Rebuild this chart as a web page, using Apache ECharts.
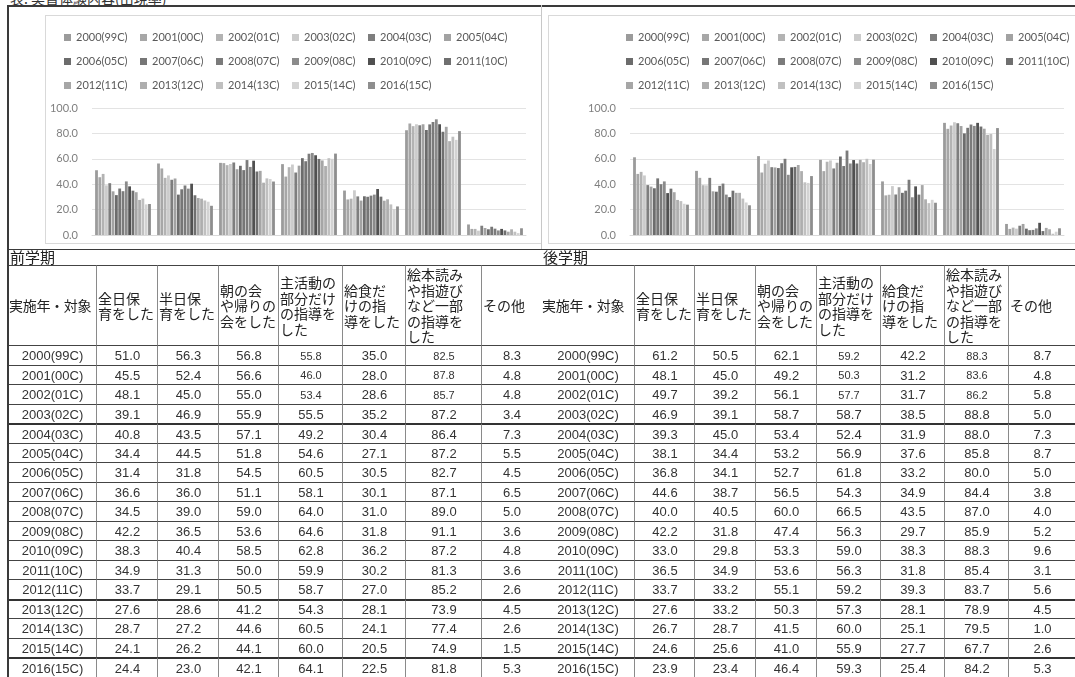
<!DOCTYPE html>
<html>
<head>
<meta charset="utf-8">
<script src="https://cdn.jsdelivr.net/npm/echarts@6/dist/echarts.min.js"></script>
<style>
  html, body { margin: 0; padding: 0; }
  body { width: 1075px; height: 677px; overflow: hidden; background: #fff; position: relative;
         font-family: "Noto Sans CJK JP", sans-serif; color: #222; }
  #title { position: absolute; left: 10px; top: -12px; font-size: 14px; color: #333; white-space: nowrap; }
  .line { position: absolute; background: #3a3a3a; }
  .box { position: absolute; border: 1px solid #d9d9d9; box-sizing: border-box; }
  #chart { position: absolute; left: 0; top: 0; width: 1130px; height: 250px; }
  .tbl { position: absolute; top: 249px; height: 428px; overflow: hidden; }
  .cap { position: absolute; left: 2px; top: -1px; font-size: 15px; line-height: 17px; color: #222; }
  .cell { position: absolute; box-sizing: border-box; border-left: 1px solid #8a8a8a; border-top: 1px solid #444;
          display: flex; align-items: center; overflow: hidden; }
  .hd { font-size: 14px; line-height: 15.5px; padding-left: 1px; color: #222; }
  .hd.first { font-size: 14px; white-space: nowrap; letter-spacing: -0.3px; }
  .num { justify-content: center; font-family: "Liberation Sans", sans-serif; font-size: 13px; color: #333; }
  .num.small { font-size: 11px; }
  .thick { border-top: 2px solid #333; }
</style>
</head>
<body>
<div id="title">表. 実習体験内容(出現率)</div>
<div class="box" style="left:45px;top:15px;width:497px;height:229px;"></div>
<div class="box" style="left:548px;top:15px;width:540px;height:229px;"></div>
<div id="chart"></div>
<div class="tbl" id="tblA" style="left:8px;width:533px;"></div>
<div class="tbl" id="tblB" style="left:541px;width:534px;"></div>
<div class="line" style="left:7px;top:5px;width:1068px;height:2px;"></div>
<div class="line" style="left:7px;top:5px;width:2px;height:672px;"></div>
<div class="line" style="left:541px;top:5px;width:1px;height:244px;background:#c8c8c8;"></div>
<div class="line" style="left:8px;top:249px;width:1067px;height:1px;"></div>
<script>
// Survey categories (table columns / chart x-axis)
const categories = ['全日保育をした', '半日保育をした', '朝の会や帰りの会をした', '主活動の部分だけの指導をした',
  '給食だけの指導をした', '絵本読みや指遊びなど一部の指導をした', 'その他'];

// Header labels with the line breaks used in the table
const headerLabels = ['実施年・対象', '全日保<br>育をした', '半日保<br>育をした', '朝の会<br>や帰りの<br>会をした',
  '主活動の<br>部分だけ<br>の指導を<br>した', '給食だ<br>けの指<br>導をした',
  '絵本読み<br>や指遊び<br>など一部<br>の指導を<br>した', 'その他'];

// Survey year / cohort
const years = ['2000(99C)', '2001(00C)', '2002(01C)', '2003(02C)', '2004(03C)', '2005(04C)', '2006(05C)',
  '2007(06C)', '2008(07C)', '2009(08C)', '2010(09C)', '2011(10C)', '2012(11C)', '2013(12C)', '2014(13C)',
  '2015(14C)', '2016(15C)'];

// 前学期: one row per year, values in category order (%)
const firstTerm = [
  [51.0, 56.3, 56.8, 55.8, 35.0, 82.5, 8.3],
  [45.5, 52.4, 56.6, 46.0, 28.0, 87.8, 4.8],
  [48.1, 45.0, 55.0, 53.4, 28.6, 85.7, 4.8],
  [39.1, 46.9, 55.9, 55.5, 35.2, 87.2, 3.4],
  [40.8, 43.5, 57.1, 49.2, 30.4, 86.4, 7.3],
  [34.4, 44.5, 51.8, 54.6, 27.1, 87.2, 5.5],
  [31.4, 31.8, 54.5, 60.5, 30.5, 82.7, 4.5],
  [36.6, 36.0, 51.1, 58.1, 30.1, 87.1, 6.5],
  [34.5, 39.0, 59.0, 64.0, 31.0, 89.0, 5.0],
  [42.2, 36.5, 53.6, 64.6, 31.8, 91.1, 3.6],
  [38.3, 40.4, 58.5, 62.8, 36.2, 87.2, 4.8],
  [34.9, 31.3, 50.0, 59.9, 30.2, 81.3, 3.6],
  [33.7, 29.1, 50.5, 58.7, 27.0, 85.2, 2.6],
  [27.6, 28.6, 41.2, 54.3, 28.1, 73.9, 4.5],
  [28.7, 27.2, 44.6, 60.5, 24.1, 77.4, 2.6],
  [24.1, 26.2, 44.1, 60.0, 20.5, 74.9, 1.5],
  [24.4, 23.0, 42.1, 64.1, 22.5, 81.8, 5.3]
];

// 後学期: one row per year, values in category order (%)
const secondTerm = [
  [61.2, 50.5, 62.1, 59.2, 42.2, 88.3, 8.7],
  [48.1, 45.0, 49.2, 50.3, 31.2, 83.6, 4.8],
  [49.7, 39.2, 56.1, 57.7, 31.7, 86.2, 5.8],
  [46.9, 39.1, 58.7, 58.7, 38.5, 88.8, 5.0],
  [39.3, 45.0, 53.4, 52.4, 31.9, 88.0, 7.3],
  [38.1, 34.4, 53.2, 56.9, 37.6, 85.8, 8.7],
  [36.8, 34.1, 52.7, 61.8, 33.2, 80.0, 5.0],
  [44.6, 38.7, 56.5, 54.3, 34.9, 84.4, 3.8],
  [40.0, 40.5, 60.0, 66.5, 43.5, 87.0, 4.0],
  [42.2, 31.8, 47.4, 56.3, 29.7, 85.9, 5.2],
  [33.0, 29.8, 53.3, 59.0, 38.3, 88.3, 9.6],
  [36.5, 34.9, 53.6, 56.3, 31.8, 85.4, 3.1],
  [33.7, 33.2, 55.1, 59.2, 39.3, 83.7, 5.6],
  [27.6, 33.2, 50.3, 57.3, 28.1, 78.9, 4.5],
  [26.7, 28.7, 41.5, 60.0, 25.1, 79.5, 1.0],
  [24.6, 25.6, 41.0, 55.9, 27.7, 67.7, 2.6],
  [23.9, 23.4, 46.4, 59.3, 25.4, 84.2, 5.3]
];

// Axis ticks
const yTicks = { min: 0, max: 100, interval: 20 };

// Grey shades per year
const yearColors = ['#9b9b9b', '#a7a7a7', '#b3b3b3', '#cbcbcb', '#7e7e7e', '#a2a2a2', '#6c6c6c', '#767676',
  '#7b7b7b', '#8b8b8b', '#505050', '#6f6f6f', '#a6a6a6', '#aeaeae', '#c0c0c0', '#d3d3d3', '#8e8e8e'];

// ---------- bar charts ----------
const panels = [
  { data: firstTerm, gridLeft: 92, legendLeft: 64 },
  { data: secondTerm, gridLeft: 630, legendLeft: 626 }
];
const legendRows = [[0, 6], [6, 12], [12, 17]];
const legendTops = [32, 56, 80];

const legends = [];
panels.forEach(p => {
  legendRows.forEach((r, k) => {
    legends.push({
      left: p.legendLeft, top: legendTops[k], padding: 0, icon: 'rect',
      itemWidth: 7, itemHeight: 7, itemGap: 12.5,
      textStyle: { fontSize: 11, color: '#595959', fontFamily: 'Lato' },
      data: years.slice(r[0], r[1])
    });
  });
});

const series = [];
panels.forEach((p, t) => {
  years.forEach((y, i) => {
    series.push({
      type: 'bar', name: y, xAxisIndex: t, yAxisIndex: t,
      data: p.data[i], barGap: '18%', barCategoryGap: '10%',
      itemStyle: { color: yearColors[i] }
    });
  });
});

const chart = echarts.init(document.getElementById('chart'), null, { renderer: 'canvas' });
chart.setOption({
  animation: false,
  color: yearColors,
  legend: legends,
  grid: panels.map(p => ({ left: p.gridLeft, top: 108, width: 434, height: 127 })),
  xAxis: panels.map((p, t) => ({
    type: 'category', gridIndex: t, data: categories,
    axisLabel: { show: false }, axisTick: { show: false },
    axisLine: { lineStyle: { color: '#d9d9d9' } }
  })),
  yAxis: panels.map((p, t) => ({
    type: 'value', gridIndex: t, min: yTicks.min, max: yTicks.max, interval: yTicks.interval,
    axisLabel: { formatter: v => v.toFixed(1), color: '#7f7f7f', fontSize: 11, margin: 14, fontFamily: 'Lato' },
    axisLine: { show: false }, axisTick: { show: false },
    splitLine: { lineStyle: { color: '#e3e3e3' } }
  })),
  series: series
});

// ---------- data tables ----------
function buildTable(el, caption, rows, colW) {
  const capEl = document.createElement('div');
  capEl.className = 'cap';
  capEl.textContent = caption;
  el.appendChild(capEl);
  const headTop = 16, headH = 80, rowH = 19.5;
  const xs = [0];
  colW.forEach(w => xs.push(xs[xs.length - 1] + w));
  headerLabels.forEach((h, c) => {
    const d = document.createElement('div');
    d.className = c === 0 ? 'cell hd first' : 'cell hd';
    d.style.left = xs[c] + 'px'; d.style.width = (colW[c] + 1) + 'px';
    d.style.top = headTop + 'px'; d.style.height = (headH + 1) + 'px';
    if (c === 0) d.style.borderLeft = 'none';
    d.innerHTML = h;
    el.appendChild(d);
  });
  rows.forEach((row, r) => {
    const top = headTop + headH + r * rowH;
    const cells = [years[r]].concat(row.map(v => v.toFixed(1)));
    cells.forEach((txt, c) => {
      const d = document.createElement('div');
      d.className = 'cell num';
      if (r <= 2 && (c === 4 || c === 6)) d.className += ' small';
      if (r === 4 || r === 13 || r === 16) d.className += ' thick';
      d.style.left = xs[c] + 'px'; d.style.width = (colW[c] + 1) + 'px';
      d.style.top = top + 'px'; d.style.height = (rowH + 1) + 'px';
      if (c === 0) d.style.borderLeft = 'none';
      d.textContent = txt;
      el.appendChild(d);
    });
  });
}
buildTable(document.getElementById('tblA'), '前学期', firstTerm, [88, 61, 61, 60, 64, 63, 76, 60]);
buildTable(document.getElementById('tblB'), '後学期', secondTerm, [93, 60, 61, 61, 64, 64, 64, 67]);
</script>
</body>
</html>
